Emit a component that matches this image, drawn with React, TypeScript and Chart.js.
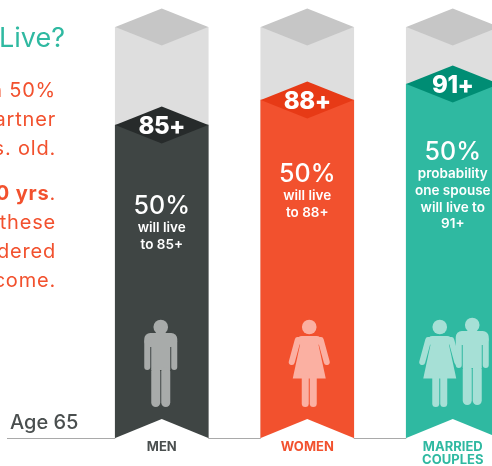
import { useEffect, useRef } from "react";
import { Chart, LinearScale, registerables } from "chart.js";

// Data
const categories = ["MEN", "WOMEN", ["MARRIED", "COUPLES"]];
const lifeAges = [85, 88, 91];
const towerAges = [100, 100, 100];
const ageLabels = ["85+", "88+", "91+"];
const captions = [
  ["will live", "to 85+"],
  ["will live", "to 88+"],
  ["probability", "one spouse", "will live to", "91+"],
];
const headline = "50%";
const baseAgeLabel = "Age 65";
const titleTail = "Live?";
const introLines = ["n 50%", "artner", "s. old."];
const noteLines = ["these", "dered", "come."];
const noteLead = "0 yrs";

// The age axis is broken: it is compressed above the 65-85 stretch.
const axisAges = [65, 85, 88, 91, 100];
const axisShares = [0, 0.7616, 0.8224, 0.8613, 1];

const barColors = ["#3f4544", "#f2512e", "#2fb9a1"];
const capColors = ["#272b2b", "#e73a16", "#008d74"];
const iconColors = ["#a8abaa", "#fbb0a2", "#a6e0d6"];
const labelColors = ["#4a4f4f", "#f2512e", "#2fb9a1"];
const FONT = "Inter, 'Open Sans', sans-serif";

class BrokenAgeScale extends LinearScale {
  static id = "brokenAge";
  static defaults = LinearScale.defaults;
  getPixelForValue(value: number) {
    let i = 0;
    while (i < axisAges.length - 2 && value > axisAges[i + 1]) i++;
    const t = (value - axisAges[i]) / (axisAges[i + 1] - axisAges[i]);
    return this.getPixelForDecimal(axisShares[i] + t * (axisShares[i + 1] - axisShares[i]));
  }
}
Chart.register(...registerables, BrokenAgeScale);

const CAP = 18.5;

function diamond(ctx: CanvasRenderingContext2D, x: number, y: number, halfW: number, color: string) {
  ctx.fillStyle = color;
  ctx.beginPath();
  ctx.moveTo(x - halfW, y);
  ctx.lineTo(x, y - CAP);
  ctx.lineTo(x + halfW, y);
  ctx.lineTo(x, y + CAP);
  ctx.closePath();
  ctx.fill();
}

function pill(ctx: CanvasRenderingContext2D, x: number, y: number, w: number, h: number, r: number) {
  ctx.beginPath();
  ctx.roundRect(x, y, w, h, r);
  ctx.fill();
}

function manIcon(ctx: CanvasRenderingContext2D, cx: number, top: number, color: string) {
  ctx.fillStyle = color;
  ctx.beginPath();
  ctx.arc(cx, top + 8, 7.3, 0, Math.PI * 2);
  ctx.fill();
  pill(ctx, cx - 16.5, top + 14, 33, 14, 6);
  pill(ctx, cx - 16.5, top + 20, 6, 31, 3);
  pill(ctx, cx + 10.5, top + 20, 6, 31, 3);
  ctx.fillRect(cx - 9.5, top + 20, 19, 31);
  pill(ctx, cx - 9.5, top + 48, 9, 40, 4.5);
  pill(ctx, cx + 0.5, top + 48, 9, 40, 4.5);
}

function womanIcon(ctx: CanvasRenderingContext2D, cx: number, top: number, color: string) {
  ctx.fillStyle = color;
  ctx.beginPath();
  ctx.arc(cx, top + 8, 7.3, 0, Math.PI * 2);
  ctx.fill();
  pill(ctx, cx - 12, top + 17, 24, 9, 4.5);
  ctx.beginPath();
  ctx.moveTo(cx - 8, top + 20);
  ctx.lineTo(cx + 8, top + 20);
  ctx.lineTo(cx + 16.5, top + 59.5);
  ctx.lineTo(cx - 16.5, top + 59.5);
  ctx.closePath();
  ctx.fill();
  ctx.strokeStyle = color;
  ctx.lineWidth = 6;
  ctx.lineCap = "round";
  for (const s of [-1, 1]) {
    ctx.beginPath();
    ctx.moveTo(cx + s * 11.5, top + 21);
    ctx.lineTo(cx + s * 17.5, top + 43);
    ctx.stroke();
  }
  pill(ctx, cx - 7.5, top + 56, 7, 32, 3.5);
  pill(ctx, cx + 0.5, top + 56, 7, 32, 3.5);
}

const infographic = {
  id: "infographic",
  beforeDatasetsDraw(chart: Chart) {
    const { ctx, scales } = chart;
    const y = scales.y.getPixelForValue(65);
    ctx.save();
    ctx.strokeStyle = "#a9a9a9";
    ctx.lineWidth = 1;
    ctx.beginPath();
    ctx.moveTo(7, y + 0.5);
    ctx.lineTo(chart.width, y + 0.5);
    ctx.stroke();
    ctx.fillStyle = "#4a4f4f";
    ctx.font = `500 20px ${FONT}`;
    ctx.textAlign = "left";
    ctx.fillText(baseAgeLabel, 10, y - 9);
    ctx.restore();
  },
  afterDatasetsDraw(chart: Chart) {
    const { ctx, scales } = chart;
    const bars = chart.getDatasetMeta(0).data;
    const towers = chart.getDatasetMeta(1).data;
    const base = scales.y.getPixelForValue(65);
    ctx.save();
    bars.forEach((bar: any, i: number) => {
      const halfW = bar.width / 2;
      diamond(ctx, towers[i].x, (towers[i] as any).y, halfW, "#c6c6c6");
      diamond(ctx, bar.x, bar.y, halfW, capColors[i]);

      // Ribbon notch cut from the foot of each column
      ctx.fillStyle = "#ffffff";
      ctx.beginPath();
      ctx.moveTo(bar.x - halfW, base);
      ctx.lineTo(bar.x, base - CAP - 0.5);
      ctx.lineTo(bar.x + halfW, base);
      ctx.lineTo(bar.x + halfW, base + 1);
      ctx.lineTo(bar.x - halfW, base + 1);
      ctx.closePath();
      ctx.fill();

      ctx.textAlign = "center";
      ctx.fillStyle = "#ffffff";
      ctx.font = `800 24px ${FONT}`;
      (ctx as any).letterSpacing = "-0.5px";
      ctx.fillText(ageLabels[i], bar.x, bar.y + 9);
      (ctx as any).letterSpacing = "0px";
    });

    // Column captions
    const captionTop = [214, 182, 160];
    bars.forEach((bar: any, i: number) => {
      ctx.fillStyle = "#ffffff";
      ctx.textAlign = "center";
      ctx.font = `500 25px ${FONT}`;
      ctx.fillText(headline, bar.x, captionTop[i]);
      ctx.font = `600 13.5px ${FONT}`;
      captions[i].forEach((line, k) => {
        ctx.fillText(line, bar.x, captionTop[i] + 18 + k * 16.8);
      });
    });

    // Pictograms
    const top = base - 119;
    manIcon(ctx, bars[0].x - 1, top, iconColors[0]);
    womanIcon(ctx, bars[1].x + 2, top, iconColors[1]);
    manIcon(ctx, bars[2].x + 19.5, top - 2, iconColors[2]);
    womanIcon(ctx, bars[2].x - 13, top, iconColors[2]);

    // Copy running in from the left edge
    ctx.textAlign = "right";
    ctx.fillStyle = "#2fb9a1";
    ctx.font = `400 27px ${FONT}`;
    ctx.fillText(titleTail, 65, 47);
    ctx.fillStyle = "#f2512e";
    ctx.font = `400 20px ${FONT}`;
    (ctx as any).letterSpacing = "0.8px";
    introLines.forEach((line, k) => ctx.fillText(line, 56, 97 + k * 29));
    noteLines.forEach((line, k) => ctx.fillText(line, 56, 229 + k * 29));
    const dotW = ctx.measureText(".").width;
    ctx.fillText(".", 56, 200);
    ctx.font = `700 20px ${FONT}`;
    ctx.fillText(noteLead, 56 - dotW, 200);
    ctx.restore();
  },
};

export default function App() {
  const ref = useRef<HTMLCanvasElement>(null);
  useEffect(() => {
    const chart = new Chart(ref.current!, {
      type: "bar",
      data: {
        labels: categories as any,
        datasets: [
          { data: lifeAges, backgroundColor: barColors, order: 1, barThickness: 93, grouped: false } as any,
          { data: towerAges, backgroundColor: "#dedede", order: 2, barThickness: 93, grouped: false } as any,
        ],
      },
      options: {
        responsive: false,
        animation: false,
        layout: { padding: { left: 89, right: 9.5, top: 27, bottom: 0 } },
        plugins: { legend: { display: false }, tooltip: { enabled: false }, title: { display: false } },
        scales: {
          x: {
            grid: { display: false, drawTicks: false },
            border: { display: false },
            afterFit: (s: any) => {
              s.height = 28;
            },
            ticks: {
              padding: 3,
              maxRotation: 0,
              autoSkip: false,
              color: (c: any) => labelColors[c.index],
              font: { family: FONT, weight: "bold", size: 13, lineHeight: 1 },
            },
          },
          y: { type: "brokenAge", display: false, min: 65, max: 100 } as any,
        },
      },
      plugins: [infographic],
    });
    return () => chart.destroy();
  }, []);
  return (
    <div style={{ position: "fixed", left: 0, top: 0, width: 492, height: 466, overflow: "hidden", background: "#fff" }}>
      <canvas ref={ref} width={535} height={466} style={{ display: "block" }} />
    </div>
  );
}
